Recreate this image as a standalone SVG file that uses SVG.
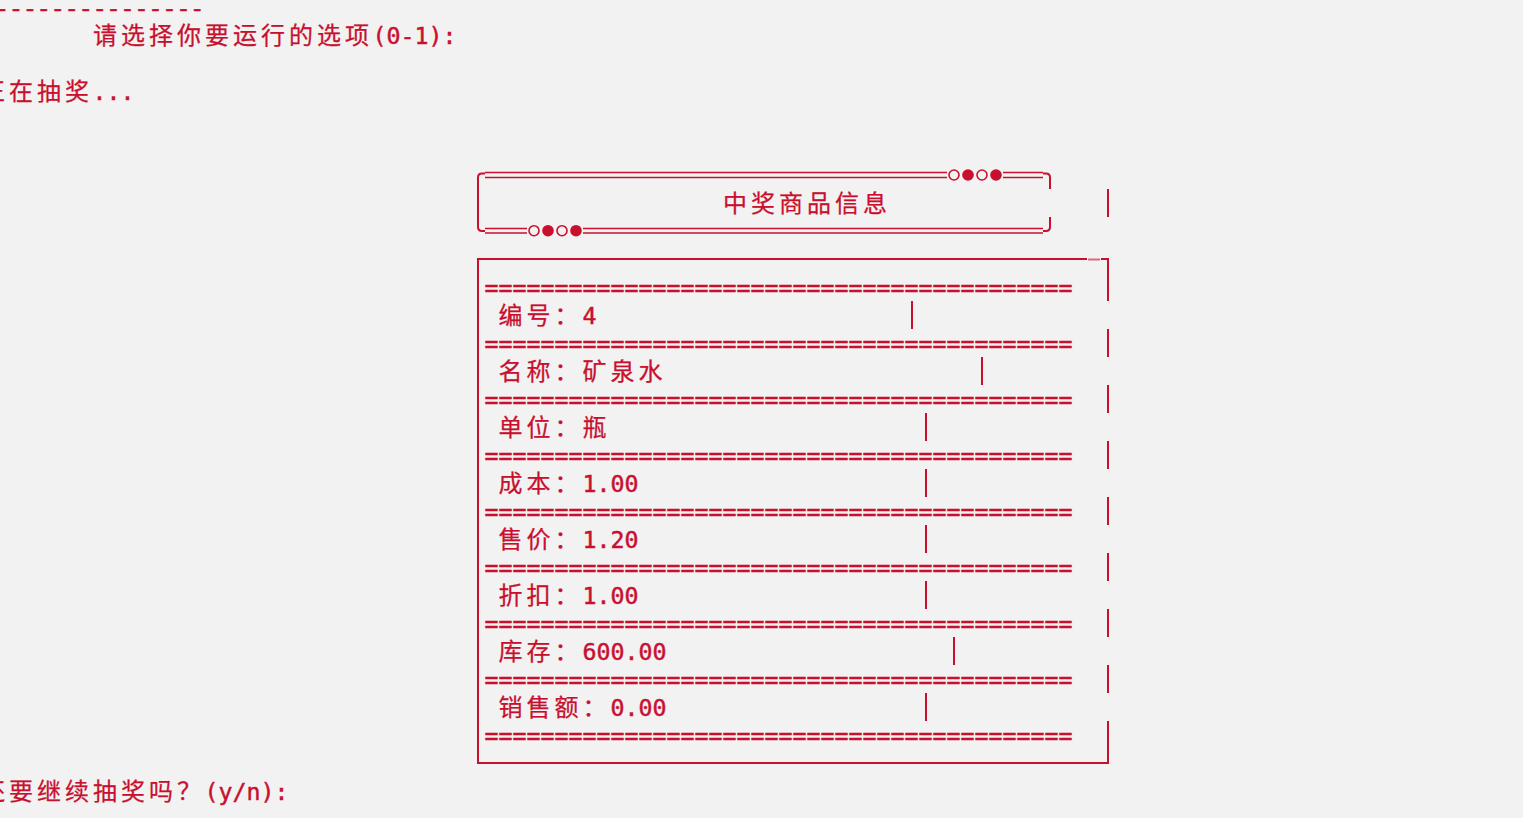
<svg xmlns="http://www.w3.org/2000/svg" width="1523" height="818" viewBox="0 0 1523 818">
<style>
.t{font-family:"DejaVu Sans Mono","Noto Sans CJK SC",monospace;font-size:23.26px;fill:#c8102e;stroke:#c8102e;stroke-width:0.45}
.c{font-family:"Noto Sans CJK SC","DejaVu Sans Mono",sans-serif;font-size:24px;stroke-width:0.25}
.dash{font-family:"Liberation Mono","DejaVu Sans Mono",monospace}
.ln{stroke:#c8102e;stroke-width:2;fill:none}
.dl{stroke:#c8102e;stroke-width:1.5;fill:none}
.ring{fill:#f2f2f2;stroke:#c8102e;stroke-width:1.6}
.dot{fill:#c8102e}
</style>
<rect width="1523" height="818" fill="#f2f2f2"/>

<g id="console-top">
<text class="t dash" x="-5" y="15.5">---------------</text>
<text class="t" y="43.5"><tspan class="c" x="93 121 149 177 205 233 261 289 317 345">请选择你要运行的选项</tspan><tspan x="372.5">(0-1):</tspan></text>
<text class="t" y="99.5"><tspan class="c" x="-19 9 37 65">正在抽奖</tspan><tspan x="92.5">...</tspan></text>
</g>

<g id="header-box">
<path class="ln" d="M485,173.5 H482 Q478,173.5 478,177.5 V227 Q478,231 482,231 H485"/>
<path class="ln" d="M1043,173.5 H1046 Q1050,173.5 1050,177.5 V189"/>
<path class="ln" d="M1050,217 V227 Q1050,231 1046,231 H1043"/>
<path class="dl" d="M485,172.5 H947 M485,177.5 H947 M1003,172.5 H1043 M1003,177.5 H1043"/>
<path class="dl" d="M485,228.5 H527 M485,233 H527 M583,228.5 H1043 M583,233 H1043"/>
<circle class="ring" cx="954" cy="175" r="5"/>
<circle class="dot" cx="968" cy="175" r="5.8"/>
<circle class="ring" cx="982" cy="175" r="5"/>
<circle class="dot" cx="996" cy="175" r="5.8"/>
<circle class="ring" cx="534" cy="230.7" r="5"/>
<circle class="dot" cx="548" cy="230.7" r="5.8"/>
<circle class="ring" cx="562" cy="230.7" r="5"/>
<circle class="dot" cx="576" cy="230.7" r="5.8"/>
<text class="t" y="211.5"><tspan class="c" x="723 751 779 807 835 863">中奖商品信息</tspan></text>
</g>

<g id="info-table">
<text class="t" y="295.5" x="484.5">==========================================</text>
<text class="t" y="323.5"><tspan class="c" x="498.5 526.5 554.5">编号：</tspan><tspan x="582.5">4</tspan></text>
<text class="t" y="351.5" x="484.5">==========================================</text>
<text class="t" y="379.5"><tspan class="c" x="498.5 526.5 554.5 582.5 610.5 638.5">名称：矿泉水</tspan></text>
<text class="t" y="407.5" x="484.5">==========================================</text>
<text class="t" y="435.5"><tspan class="c" x="498.5 526.5 554.5 582.5">单位：瓶</tspan></text>
<text class="t" y="463.5" x="484.5">==========================================</text>
<text class="t" y="491.5"><tspan class="c" x="498.5 526.5 554.5">成本：</tspan><tspan x="582.5">1.00</tspan></text>
<text class="t" y="519.5" x="484.5">==========================================</text>
<text class="t" y="547.5"><tspan class="c" x="498.5 526.5 554.5">售价：</tspan><tspan x="582.5">1.20</tspan></text>
<text class="t" y="575.5" x="484.5">==========================================</text>
<text class="t" y="603.5"><tspan class="c" x="498.5 526.5 554.5">折扣：</tspan><tspan x="582.5">1.00</tspan></text>
<text class="t" y="631.5" x="484.5">==========================================</text>
<text class="t" y="659.5"><tspan class="c" x="498.5 526.5 554.5">库存：</tspan><tspan x="582.5">600.00</tspan></text>
<text class="t" y="687.5" x="484.5">==========================================</text>
<text class="t" y="715.5"><tspan class="c" x="498.5 526.5 554.5 582.5">销售额：</tspan><tspan x="610.5">0.00</tspan></text>
<text class="t" y="743.5" x="484.5">==========================================</text>
</g>

<g id="console-bottom">
<text class="t" y="799.5"><tspan class="c" x="-19 9 37 65 93 121 149 177">还要继续抽奖吗？</tspan><tspan x="204.5">(y/n):</tspan></text>
</g>

<g id="connectors">
<path class="ln" d="M478,259 H1087 M1101,259 H1108 M478,258 V764 M477,763 H1109"/>
<path class="ln" d="M1088,259.5 H1100" opacity="0.6"/>
<path class="ln" d="M1108,189 V217 M1108,258 V301 M1108,329 V357 M1108,385 V413 M1108,441 V469 M1108,497 V525 M1108,553 V581 M1108,609 V637 M1108,665 V693 M1108,721 V764"/>
<path class="ln" d="M912,301 V329 M982,357 V385 M926,413 V441 M926,469 V497 M926,525 V553 M926,581 V609 M954,637 V665 M926,693 V721"/>
</g>
</svg>
